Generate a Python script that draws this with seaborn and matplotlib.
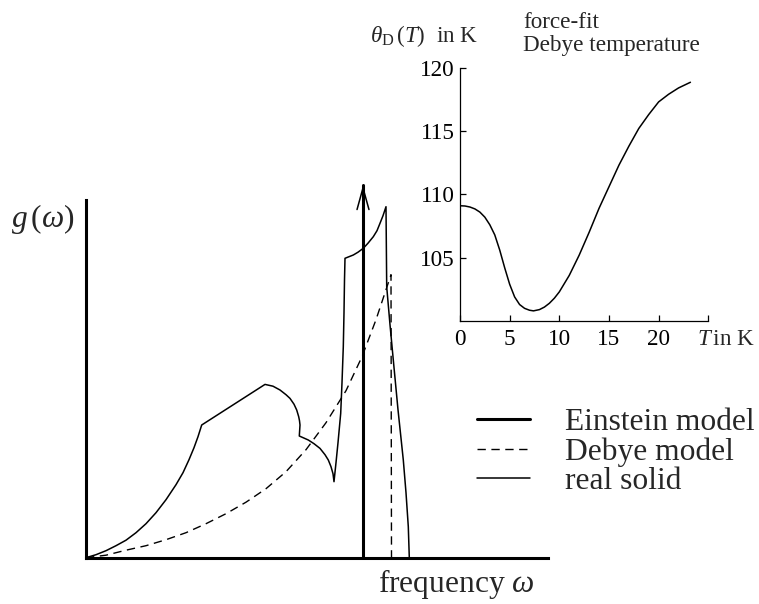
import matplotlib
matplotlib.use("Agg")
import matplotlib.pyplot as plt
import pandas as pd
import seaborn as sns

# Phonon density of states g(omega), arbitrary units
omega_real = [0.0, 0.1, 0.2, 0.3, 0.4, 0.5, 0.6, 0.7, 0.8, 0.9, 0.97,
              1.03, 1.08, 1.12, 1.157,
              1.79, 1.87, 1.94, 2.0, 2.04, 2.08, 2.107, 2.127, 2.135, 2.14,
              2.133, 2.223,
              2.28, 2.34, 2.39, 2.423, 2.45, 2.47, 2.48,
              2.50, 2.52, 2.547, 2.56, 2.573, 2.58, 2.585, 2.59,
              2.63, 2.673, 2.72, 2.773, 2.82, 2.873, 2.91, 2.94, 2.97, 3.0,
              3.007, 3.04, 3.073, 3.12, 3.173, 3.2, 3.223, 3.233]
g_real = [0.0, 0.03, 0.07, 0.12, 0.175, 0.25, 0.34, 0.45, 0.58, 0.73, 0.85,
          0.98, 1.1, 1.21, 1.327,
          1.733, 1.715, 1.677, 1.63, 1.593, 1.535, 1.477, 1.41, 1.37, 1.327,
          1.217, 1.177,
          1.14, 1.093, 1.03, 0.977, 0.91, 0.84, 0.76,
          0.95, 1.15, 1.443, 1.75, 2.11, 2.45, 2.777, 2.994,
          3.01, 3.027, 3.055, 3.094, 3.145, 3.21, 3.27, 3.344, 3.42, 3.51,
          2.71, 2.33, 1.977, 1.48, 0.977, 0.65, 0.31, 0.0]

omega_debye = [0.0, 0.2, 0.4, 0.6, 0.8, 1.0, 1.2, 1.4, 1.6, 1.8, 2.0, 2.2,
               2.4, 2.6, 2.76, 2.9, 3.05]
g_debye = [0.0, 0.025, 0.075, 0.12, 0.18, 0.25, 0.34, 0.44, 0.555, 0.69,
           0.86, 1.08, 1.35, 1.67, 2.01, 2.38, 2.83]
omega_D = 3.055          # Debye cutoff frequency
omega_E = 2.77           # Einstein frequency
g_E_top = 3.727          # drawn height of the Einstein delta peak

# Force-fit Debye temperature vs temperature
T_vals = [0, 0.5, 1, 1.5, 2, 2.5, 3, 3.5, 4, 4.5, 5, 5.5, 6, 6.5, 7, 7.4,
          8, 8.5, 9, 9.5, 10, 11, 12, 13, 14, 15, 16, 17, 18, 19, 20, 21,
          22, 23.2]
theta_vals = [109.1, 109.08, 109.0, 108.85, 108.6, 108.2, 107.6, 106.8,
              105.6, 104.2, 102.9, 101.9, 101.3, 101.0, 100.85, 100.8,
              100.9, 101.1, 101.4, 101.8, 102.3, 103.6, 105.2, 107.0, 108.9,
              110.6, 112.3, 113.8, 115.2, 116.3, 117.3, 117.9, 118.4, 118.85]
T_ticks = [0, 5, 10, 15, 20, 25]
T_ticklabels = ["0", "5", "10", "15", "20", ""]
theta_ticks = [105, 110, 115, 120]

labels = ["Einstein model", "Debye model", "real solid"]

sns.set_theme(style="white")
plt.rcParams["font.family"] = ["Liberation Serif", "DejaVu Serif"]
plt.rcParams["mathtext.fontset"] = "custom"
plt.rcParams["mathtext.rm"] = "Liberation Serif"
plt.rcParams["mathtext.it"] = "Liberation Serif:italic"

W, H = 759, 604
fig = plt.figure(figsize=(W / 100, H / 100), dpi=100)


def fx(px):
    return px / W


def fy(py):
    return 1 - py / H


# ---- main panel: density of states ----
ax = fig.add_axes([fx(86), fy(557.7), (548 - 86) / W, (557.7 - 200) / H])
ax.set_facecolor("none")

df_E = pd.DataFrame({"omega": [omega_E, omega_E], "g": [0.0, g_E_top]})
df_D = pd.DataFrame({"omega": omega_debye + [omega_D],
                     "g": g_debye + [0.0]})
df_R = pd.DataFrame({"omega": omega_real, "g": g_real})

sns.lineplot(data=df_E, x="omega", y="g", ax=ax, color="black", lw=2.2,
             sort=False, estimator=None, label=labels[0], clip_on=False)
sns.lineplot(data=df_D, x="omega", y="g", ax=ax, color="black", lw=1.0,
             linestyle=(0, (6, 4)), sort=False, estimator=None,
             label=labels[1])
sns.lineplot(data=df_R, x="omega", y="g", ax=ax, color="black", lw=1.1,
             sort=False, estimator=None, label=labels[2], clip_on=False)

ax.annotate("", xy=(omega_E, g_E_top), xytext=(omega_E, g_E_top - 0.4),
            arrowprops=dict(arrowstyle="->,head_length=15.6,head_width=4.3",
                            mutation_scale=1, lw=1.1, color="black",
                            shrinkA=0, shrinkB=0),
            annotation_clip=False)

ax.set_xlim(0, 4.62)
ax.set_ylim(0, 3.577)
ax.set_xticks([])
ax.set_yticks([])
ax.set_xlabel("")
ax.set_ylabel("")
for s in ["top", "right"]:
    ax.spines[s].set_visible(False)
for s in ["left", "bottom"]:
    ax.spines[s].set_linewidth(2.2)
    ax.spines[s].set_color("black")

handles, labs = ax.get_legend_handles_labels()
ax.legend(handles, labs, loc="upper left",
          bbox_to_anchor=(fx(477), fy(408)), bbox_transform=fig.transFigure,
          frameon=False, borderpad=0, borderaxespad=0, fontsize=22.7,
          handlelength=1.68, handletextpad=1.11, labelspacing=0.0)

fig.text(fx(11), fy(226.7), r"$g\,(\omega)$", fontsize=22.7, va="baseline")
fig.text(fx(378), fy(592), r"frequency $\omega$", fontsize=22.7,
         va="baseline")

# ---- inset: Debye temperature ----
axi = fig.add_axes([fx(460), fy(321), (708.3 - 460) / W, (321 - 67.7) / H])
axi.set_facecolor("none")
sns.lineplot(x=T_vals, y=theta_vals, ax=axi, color="black", lw=1.1,
             sort=False, estimator=None)
axi.set_xlim(0, 25)
axi.set_ylim(100, 120)
axi.set_xticks(T_ticks)
axi.set_xticklabels(T_ticklabels)
axi.set_yticks(theta_ticks)
axi.set_yticklabels([str(t) for t in theta_ticks])
for s in ["top", "right"]:
    axi.spines[s].set_visible(False)
for s in ["left", "bottom"]:
    axi.spines[s].set_linewidth(0.9)
    axi.spines[s].set_color("black")
axi.tick_params(axis="both", direction="in", length=4.3, width=0.9,
                labelsize=16.7, colors="black", left=True, bottom=True)
axi.tick_params(axis="x", pad=6)
axi.tick_params(axis="y", pad=3.6)

fig.text(fx(370), fy(41.7), r"$\theta_{\mathrm{D}}\,(T)$  in K",
         fontsize=16.7, va="baseline")
fig.text(fx(523), fy(28.3), "force-fit", fontsize=16.7, va="baseline")
fig.text(fx(523), fy(50.7), "Debye temperature", fontsize=16.7,
         va="baseline")
fig.text(fx(697), fy(345.5), r"$T\,$in K", fontsize=16.7, va="baseline")

fig.savefig("out.png", dpi=100)
